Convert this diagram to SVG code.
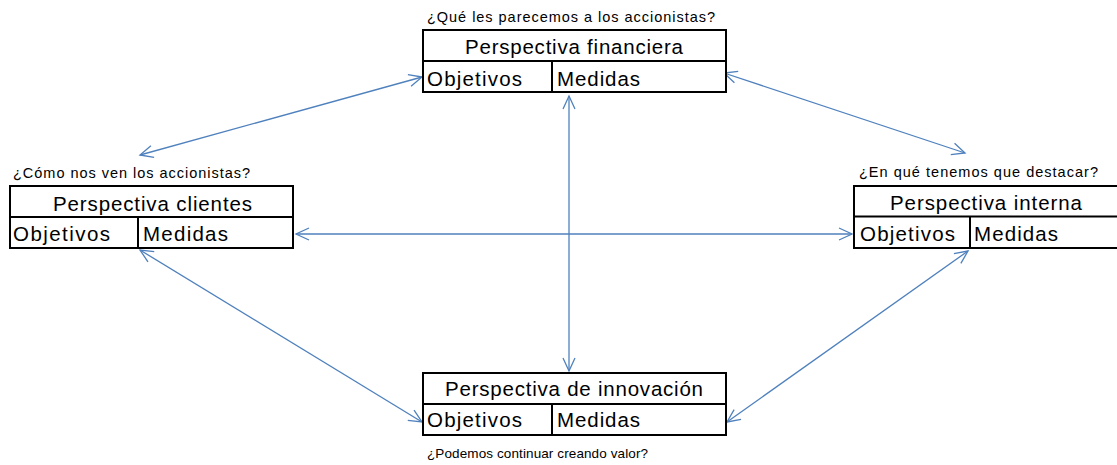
<svg xmlns="http://www.w3.org/2000/svg" width="1117" height="465" viewBox="0 0 1117 465">
<style>
.box{fill:#fff;stroke:#000;stroke-width:2}
.ln{stroke:#000;stroke-width:2}
.t{font-family:"Liberation Sans",Arial,sans-serif;font-size:20.5px;fill:#000}
.c{font-family:"Liberation Sans",Arial,sans-serif;font-size:14.5px;fill:#000}
.con{stroke:#4F81BD;stroke-width:1.3;fill:none;marker-start:url(#ah);marker-end:url(#ah)}
</style>
<defs>
<marker id="ah" markerUnits="userSpaceOnUse" viewBox="-16 -8 18 16" markerWidth="18" markerHeight="16" refX="0" refY="0" orient="auto-start-reverse">
<path d="M-13,-6 L0,0 L-13,6" fill="none" stroke="#4F81BD" stroke-width="1.3"/>
</marker>
</defs>
<g id="connectors">
<line class="con" x1="140" y1="155" x2="422" y2="77"/>
<line class="con" x1="724" y1="73" x2="965" y2="153"/>
<line class="con" x1="296" y1="234" x2="852" y2="234"/>
<line class="con" x1="569" y1="96" x2="569" y2="371"/>
<line class="con" x1="140" y1="250" x2="422" y2="422"/>
<line class="con" x1="727" y1="422" x2="968" y2="251"/>
</g>
<g id="financiera">
<text class="c" x="427" y="22" textLength="288" lengthAdjust="spacing">¿Qué les parecemos a los accionistas?</text>
<rect class="box" x="423" y="30" width="303" height="62"/>
<line class="ln" x1="423" y1="61" x2="726" y2="61"/>
<line class="ln" x1="552" y1="61" x2="552" y2="92"/>
<text class="t" x="465" y="53.5" textLength="218" lengthAdjust="spacing">Perspectiva financiera</text>
<text class="t" x="427" y="85.5" textLength="95" lengthAdjust="spacing">Objetivos</text>
<text class="t" x="557" y="85.5" textLength="83" lengthAdjust="spacing">Medidas</text>
</g>
<g id="clientes">
<text class="c" x="13" y="178" textLength="237" lengthAdjust="spacing">¿Cómo nos ven los accionistas?</text>
<rect class="box" x="10" y="186" width="283" height="62"/>
<line class="ln" x1="10" y1="217" x2="293" y2="217"/>
<line class="ln" x1="138" y1="217" x2="138" y2="248"/>
<text class="t" x="53" y="210.5" textLength="199" lengthAdjust="spacing">Perspectiva clientes</text>
<text class="t" x="13" y="240.5" textLength="97" lengthAdjust="spacing">Objetivos</text>
<text class="t" x="143" y="240.5" textLength="85" lengthAdjust="spacing">Medidas</text>
</g>
<g id="interna">
<text class="c" x="859" y="177" textLength="239" lengthAdjust="spacing">¿En qué tenemos que destacar?</text>
<rect class="box" x="854" y="186" width="270" height="62"/>
<line class="ln" x1="854" y1="216.5" x2="1124" y2="216.5"/>
<line class="ln" x1="970" y1="216.5" x2="970" y2="248"/>
<text class="t" x="890" y="209.5" textLength="192" lengthAdjust="spacing">Perspectiva interna</text>
<text class="t" x="860" y="240.5" textLength="95" lengthAdjust="spacing">Objetivos</text>
<text class="t" x="974" y="240.5" textLength="84" lengthAdjust="spacing">Medidas</text>
</g>
<g id="innovacion">
<rect class="box" x="423" y="373" width="303" height="62"/>
<line class="ln" x1="423" y1="404" x2="726" y2="404"/>
<line class="ln" x1="552" y1="404" x2="552" y2="436"/>
<text class="t" x="445" y="395.5" textLength="258" lengthAdjust="spacing">Perspectiva de innovación</text>
<text class="t" x="427" y="426.5" textLength="95" lengthAdjust="spacing">Objetivos</text>
<text class="t" x="557" y="426.5" textLength="83" lengthAdjust="spacing">Medidas</text>
<text class="c" x="427" y="457.5" style="font-size:13.5px" textLength="221" lengthAdjust="spacing">¿Podemos continuar creando valor?</text>
</g>
</svg>
